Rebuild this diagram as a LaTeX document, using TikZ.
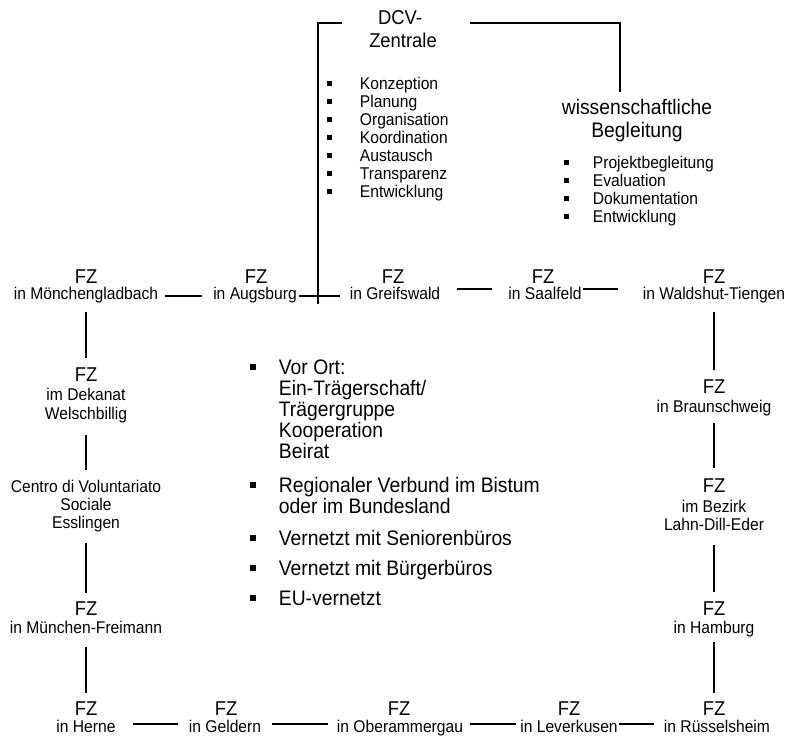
\documentclass[tikz,border=0pt]{standalone}
\usepackage{fontspec}
\setmainfont{Liberation Sans}[FakeStretch=0.92]
\begin{document}
\begin{tikzpicture}[x=1pt,y=-1pt,line width=1.8pt,
  ttl/.style={font=\fontsize{20}{20}\selectfont,inner sep=0pt,anchor=base},
  wtl/.style={font=\fontsize{21}{21}\selectfont,inner sep=0pt,anchor=base},
  sub/.style={font=\fontsize{17}{17}\selectfont,inner sep=0pt,anchor=base},
  itm/.style={font=\fontsize{17}{17}\selectfont,inner sep=0pt,anchor=base west},
  big/.style={font=\fontsize{21}{21}\selectfont,inner sep=0pt,anchor=base west},
  bul/.style={fill=black,draw=none,inner sep=0pt,minimum size=5pt},
  bbul/.style={bul,minimum size=6pt},
  conn/.style={line width=1.8pt}]
\useasboundingbox (0,0) rectangle (789,736);

% DCV-Zentrale
\node[ttl] (dcvA) at (400,24) {DCV-};
\node[ttl] (dcvB) at (403,47) {Zentrale};
\foreach \t [count=\i from 0] in {Konzeption,Planung,Organisation,Koordination,Austausch,Transparenz,Entwicklung} {
  \node[bul] (db\i) at (329,{83+18.15*\i}) {};
  \node[itm] (dl\i) at (359,{89+18.15*\i}) {\t};
}

% wissenschaftliche Begleitung
\node[wtl] (wissA) at (637,114) {wissenschaftliche};
\node[wtl] (wissB) at (637,137) {Begleitung};
\foreach \t [count=\i from 0] in {Projektbegleitung,Evaluation,Dokumentation,Entwicklung} {
  \node[bul] (wb\i) at (566,{162+18.3*\i}) {};
  \node[itm] (wl\i) at (592,{168+18.3*\i}) {\t};
}

% top row
\node[ttl] (mgT)  at (86,283)  {FZ};
\node[sub] (mg)   at (86,299)  {in Mönchengladbach};
\node[ttl] (augT) at (256,283) {FZ};
\node[sub] (aug)  at (255,299) {in Augsburg};
\node[ttl] (grfT) at (393,283) {FZ};
\node[sub] (grf)  at (395,299) {in Greifswald};
\node[ttl] (saaT) at (543,283) {FZ};
\node[sub] (saa)  at (545,299) {in Saalfeld};
\node[ttl] (walT) at (714,283) {FZ};
\node[sub] (wal)  at (714,299) {in Waldshut-Tiengen};

% left column
\node[ttl] (dekT) at (86,381) {FZ};
\node[sub] (dek1) at (86,400) {im Dekanat};
\node[sub] (dek2) at (86,419) {Welschbillig};
\node[sub] (cen1) at (86,492) {Centro di Voluntariato};
\node[sub] (cen2) at (86,510) {Sociale};
\node[sub] (cen3) at (86,528) {Esslingen};
\node[ttl] (munT) at (86,615) {FZ};
\node[sub] (mun)  at (86,633) {in München-Freimann};

% right column
\node[ttl] (braT) at (714,393) {FZ};
\node[sub] (bra)  at (714,412) {in Braunschweig};
\node[ttl] (bezT) at (714,492) {FZ};
\node[sub] (bez1) at (714,512) {im Bezirk};
\node[sub] (bez2) at (714,530) {Lahn-Dill-Eder};
\node[ttl] (hamT) at (714,615) {FZ};
\node[sub] (ham)  at (714,633) {in Hamburg};

% bottom row
\node[ttl] (herT) at (86,715)  {FZ};
\node[sub] (her)  at (86,732)  {in Herne};
\node[ttl] (gelT) at (226,715) {FZ};
\node[sub] (gel)  at (225,732) {in Geldern};
\node[ttl] (obeT) at (399,715) {FZ};
\node[sub] (obe)  at (400,732) {in Oberammergau};
\node[ttl] (levT) at (569,715) {FZ};
\node[sub] (lev)  at (569,732) {in Leverkusen};
\node[ttl] (rueT) at (714,715) {FZ};
\node[sub] (rue)  at (717,732) {in Rüsselsheim};

% centre list
\node[bbul] (cb1) at (253,367) {};
\node[big] (c1a) at (278,374) {Vor Ort:};
\node[big] (c1b) at (278,395) {Ein-Trägerschaft/};
\node[big] (c1c) at (278,416) {Trägergruppe};
\node[big] (c1d) at (278,437) {Kooperation};
\node[big] (c1e) at (278,458) {Beirat};
\node[bbul] (cb2) at (253,485) {};
\node[big] (c2a) at (278,492) {Regionaler Verbund im Bistum};
\node[big] (c2b) at (278,513) {oder im Bundesland};
\node[bbul] (cb3) at (253,538) {};
\node[big] (c3) at (278,545) {Vernetzt mit Seniorenbüros};
\node[bbul] (cb4) at (253,568) {};
\node[big] (c4) at (278,575) {Vernetzt mit Bürgerbüros};
\node[bbul] (cb5) at (253,598) {};
\node[big] (c5) at (278,605) {EU-vernetzt};

% connectors from the Zentrale
\coordinate (dcvend) at (318,304);
\draw[conn] ([xshift=-58pt,yshift=1pt]dcvA.base) -| (dcvend);
\draw[conn] ([xshift=70pt,yshift=1pt]dcvA.base) -| ([xshift=-17pt,yshift=22pt]wissA.base);

% top row connectors
\draw[conn] ([xshift=79pt,yshift=3pt]mg.base) -- ([xshift=-53pt,yshift=3pt]aug.base);
\draw[conn] ([xshift=44pt,yshift=3pt]aug.base) -- ([xshift=-55pt,yshift=3pt]grf.base);
\draw[conn] ([xshift=62pt,yshift=10pt]grf.base) -- ([xshift=-53pt,yshift=10pt]saa.base);
\draw[conn] ([xshift=38pt,yshift=10pt]saa.base) -- ([xshift=-96pt,yshift=10pt]wal.base);

% left column connectors
\draw[conn] ([yshift=-13pt]mg.base) -- ([yshift=23pt]dekT.base);
\draw[conn] ([yshift=-16pt]dek2.base) -- ([yshift=22pt]cen1.base);
\draw[conn] ([yshift=-15pt]cen3.base) -- ([yshift=22pt]munT.base);
\draw[conn] ([yshift=-14pt]mun.base) -- ([yshift=22pt]herT.base);

% right column connectors
\draw[conn] ([yshift=-13pt]wal.base) -- ([yshift=23pt]braT.base);
\draw[conn] ([yshift=-11pt]bra.base) -- ([yshift=24pt]bezT.base);
\draw[conn] ([yshift=-15pt]bez2.base) -- ([yshift=23pt]hamT.base);
\draw[conn] ([yshift=-9pt]ham.base) -- ([yshift=22pt]rueT.base);

% bottom row connectors
\draw[conn] ([xshift=47pt,yshift=8pt]her.base) -- ([xshift=-47pt,yshift=8pt]gel.base);
\draw[conn] ([xshift=47pt,yshift=8pt]gel.base) -- ([xshift=-72pt,yshift=8pt]obe.base);
\draw[conn] ([xshift=70pt,yshift=8pt]obe.base) -- ([xshift=-53pt,yshift=8pt]lev.base);
\draw[conn] ([xshift=50pt,yshift=8pt]lev.base) -- ([xshift=-63pt,yshift=8pt]rue.base);
\end{tikzpicture}
\end{document}
